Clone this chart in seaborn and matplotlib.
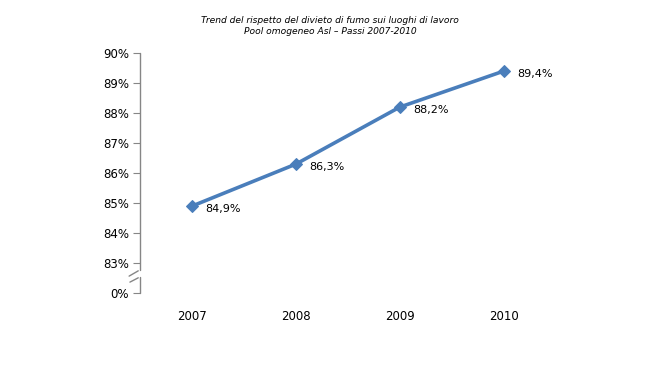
import numpy as np
import pandas as pd
import matplotlib
matplotlib.use("Agg")
import matplotlib.pyplot as plt
import seaborn as sns

years = ["2007", "2008", "2009", "2010"]
rispetto = [84.9, 86.3, 88.2, 89.4]
tick_vals = [82, 83, 84, 85, 86, 87, 88, 89, 90]
tick_labels = ["0%", "83%", "84%", "85%", "86%", "87%", "88%", "89%", "90%"]

df = pd.DataFrame({"anno": years, "valore": rispetto})

sns.set_style("white")
plt.rcParams["font.family"] = ["DejaVu Sans"]
plt.rcParams["text.color"] = "black"
plt.rcParams["xtick.color"] = "black"
plt.rcParams["ytick.color"] = "black"

fig = plt.figure(figsize=(6.6, 3.66), dpi=100)
ax = fig.add_axes([0.212, 0.199, 0.63, 0.656])

sns.lineplot(data=df, x="anno", y="valore", ax=ax, color="#4A7EBB", linewidth=2.6,
             marker="D", markersize=6, markeredgecolor="#4A7EBB", sort=False)

for i, v in enumerate(rispetto):
    ax.annotate(f"{v:.1f}%".replace(".", ","), (i, v), xytext=(9.5, -2),
                textcoords="offset points", ha="left", va="center", fontsize=8, color="black")

ax.set_xlim(-0.5, 3.5)
ax.set_ylim(82, 90)
ax.set_yticks(tick_vals)
ax.set_yticklabels(tick_labels)
ax.set_xlabel("")
ax.set_ylabel("")
ax.tick_params(axis="y", length=5, color="#868686", labelsize=8.5, pad=3, direction="out", left=True,
               labelcolor="black")
ax.tick_params(axis="x", length=0, labelsize=8.5, pad=12, labelcolor="black")

for s in ["top", "right", "bottom", "left"]:
    ax.spines[s].set_visible(False)

# broken y axis drawn by hand
gc = "#868686"
ax.plot([0, 0], [1, 0.096], transform=ax.transAxes, color=gc, lw=1, clip_on=False)
ax.plot([0, 0], [0.067, 0], transform=ax.transAxes, color=gc, lw=1, clip_on=False)
ax.plot([-0.026, -0.004], [0.071, 0.093], transform=ax.transAxes, color=gc, lw=1, clip_on=False)
ax.plot([-0.024, -0.004], [0.046, 0.064], transform=ax.transAxes, color=gc, lw=1, clip_on=False)

fig.text(0.5, 0.928, "Trend del rispetto del divieto di fumo sui luoghi di lavoro\nPool omogeneo Asl \u2013 Passi 2007-2010",
         ha="center", va="center", fontsize=6.6, style="italic", linespacing=1.25, color="black")

fig.savefig("out.png", dpi=100)
